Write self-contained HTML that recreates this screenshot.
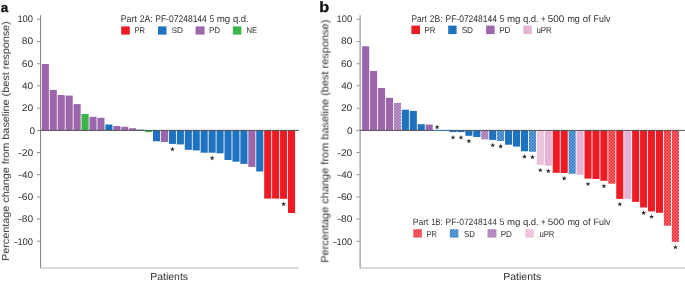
<!DOCTYPE html>
<html><head><meta charset="utf-8"><style>
html,body{margin:0;padding:0;background:#fff;}
body{width:685px;height:283px;overflow:hidden;}
svg{display:block;opacity:0.999;}
.txt{opacity:0.999;}
text{font-family:"Liberation Sans",sans-serif;fill:#303030;text-rendering:geometricPrecision;}
.pl{font-weight:bold;fill:#111;stroke:#111;stroke-width:0.35px;}
</style></head><body>
<svg width="685" height="283" viewBox="0 0 685 283" xmlns="http://www.w3.org/2000/svg">
<defs><pattern id="hR" patternUnits="userSpaceOnUse" width="3.2" height="3.2"><rect width="3.2" height="3.2" fill="#ec1c24"/><path d="M0,0L3.2,3.2M0,3.2L3.2,0" stroke="#fff" stroke-width="0.45" stroke-opacity="0.75"/></pattern><pattern id="hB" patternUnits="userSpaceOnUse" width="3.2" height="3.2"><rect width="3.2" height="3.2" fill="#1f72be"/><path d="M0,0L3.2,3.2M0,3.2L3.2,0" stroke="#fff" stroke-width="0.45" stroke-opacity="0.75"/></pattern><pattern id="hP" patternUnits="userSpaceOnUse" width="3.2" height="3.2"><rect width="3.2" height="3.2" fill="#9c66ac"/><path d="M0,0L3.2,3.2M0,3.2L3.2,0" stroke="#fff" stroke-width="0.45" stroke-opacity="0.75"/></pattern><pattern id="hK" patternUnits="userSpaceOnUse" width="3.2" height="3.2"><rect width="3.2" height="3.2" fill="#e6b3d3"/><path d="M0,0L3.2,3.2M0,3.2L3.2,0" stroke="#fff" stroke-width="0.45" stroke-opacity="0.75"/></pattern><pattern id="lR" patternUnits="userSpaceOnUse" width="2.5" height="2.5"><rect width="2.5" height="2.5" fill="#ec1c24"/><path d="M0,0L2.5,2.5M0,2.5L2.5,0" stroke="#fff" stroke-width="0.4" stroke-opacity="0.8"/></pattern><pattern id="lB" patternUnits="userSpaceOnUse" width="2.5" height="2.5"><rect width="2.5" height="2.5" fill="#1f72be"/><path d="M0,0L2.5,2.5M0,2.5L2.5,0" stroke="#fff" stroke-width="0.4" stroke-opacity="0.8"/></pattern><pattern id="lP" patternUnits="userSpaceOnUse" width="2.5" height="2.5"><rect width="2.5" height="2.5" fill="#9c66ac"/><path d="M0,0L2.5,2.5M0,2.5L2.5,0" stroke="#fff" stroke-width="0.4" stroke-opacity="0.8"/></pattern><pattern id="lK" patternUnits="userSpaceOnUse" width="2.5" height="2.5"><rect width="2.5" height="2.5" fill="#e6b3d3"/><path d="M0,0L2.5,2.5M0,2.5L2.5,0" stroke="#fff" stroke-width="0.4" stroke-opacity="0.8"/></pattern></defs>
<rect x="40.00" y="15.2" width="1.1" height="253" fill="#8a8a8a"/>
<rect x="36.95" y="18.80" width="3" height="1" fill="#8a8a8a"/>
<text class="tk" transform="translate(17.396,22.198) scale(0.978,1)" style="font-size:9.60px">100</text>
<rect x="36.95" y="41.00" width="3" height="1" fill="#8a8a8a"/>
<text class="tk" transform="translate(21.767,44.398) scale(1.062,1)" style="font-size:9.60px">80</text>
<rect x="36.95" y="63.30" width="3" height="1" fill="#8a8a8a"/>
<text class="tk" transform="translate(21.687,66.698) scale(1.070,1)" style="font-size:9.60px">60</text>
<rect x="36.95" y="85.30" width="3" height="1" fill="#8a8a8a"/>
<text class="tk" transform="translate(21.975,89.098) scale(1.042,1)" style="font-size:9.60px">40</text>
<rect x="36.95" y="107.70" width="3" height="1" fill="#8a8a8a"/>
<text class="tk" transform="translate(21.687,111.098) scale(1.070,1)" style="font-size:9.60px">20</text>
<rect x="36.95" y="129.90" width="3" height="1" fill="#8a8a8a"/>
<text class="tk" transform="translate(29.598,133.698) scale(1.047,1)" style="font-size:9.60px">0</text>
<rect x="36.95" y="152.00" width="3" height="1" fill="#8a8a8a"/>
<text class="tk" transform="translate(21.687,155.998) scale(1.070,1)" style="font-size:9.60px">20</text>
<rect x="18.30" y="153.30" width="3.3" height="0.85" fill="#555"/>
<rect x="36.95" y="174.20" width="3" height="1" fill="#8a8a8a"/>
<text class="tk" transform="translate(21.975,177.598) scale(1.042,1)" style="font-size:9.60px">40</text>
<rect x="18.30" y="174.90" width="3.3" height="0.85" fill="#555"/>
<rect x="36.95" y="196.40" width="3" height="1" fill="#8a8a8a"/>
<text class="tk" transform="translate(21.687,199.798) scale(1.070,1)" style="font-size:9.60px">60</text>
<rect x="18.30" y="197.10" width="3.3" height="0.85" fill="#555"/>
<rect x="36.95" y="218.50" width="3" height="1" fill="#8a8a8a"/>
<text class="tk" transform="translate(21.767,221.898) scale(1.062,1)" style="font-size:9.60px">80</text>
<rect x="18.30" y="219.20" width="3.3" height="0.85" fill="#555"/>
<rect x="36.95" y="240.70" width="3" height="1" fill="#8a8a8a"/>
<text class="tk" transform="translate(17.396,244.698) scale(0.978,1)" style="font-size:9.60px">100</text>
<rect x="14.20" y="242.00" width="3.3" height="0.85" fill="#555"/>
<rect x="40.05" y="267.4" width="258.85" height="1.3" fill="#c6c6c6"/>
<rect x="359.55" y="15.2" width="1.1" height="253" fill="#8a8a8a"/>
<rect x="356.50" y="18.80" width="3" height="1" fill="#8a8a8a"/>
<text class="tk" transform="translate(336.596,22.198) scale(0.978,1)" style="font-size:9.60px">100</text>
<rect x="356.50" y="41.00" width="3" height="1" fill="#8a8a8a"/>
<text class="tk" transform="translate(340.967,44.398) scale(1.062,1)" style="font-size:9.60px">80</text>
<rect x="356.50" y="63.30" width="3" height="1" fill="#8a8a8a"/>
<text class="tk" transform="translate(340.887,66.698) scale(1.070,1)" style="font-size:9.60px">60</text>
<rect x="356.50" y="85.30" width="3" height="1" fill="#8a8a8a"/>
<text class="tk" transform="translate(341.175,89.098) scale(1.042,1)" style="font-size:9.60px">40</text>
<rect x="356.50" y="107.70" width="3" height="1" fill="#8a8a8a"/>
<text class="tk" transform="translate(340.887,111.098) scale(1.070,1)" style="font-size:9.60px">20</text>
<rect x="356.50" y="129.90" width="3" height="1" fill="#8a8a8a"/>
<text class="tk" transform="translate(346.998,133.698) scale(1.047,1)" style="font-size:9.60px">0</text>
<rect x="356.50" y="152.00" width="3" height="1" fill="#8a8a8a"/>
<text class="tk" transform="translate(340.887,155.998) scale(1.070,1)" style="font-size:9.60px">20</text>
<rect x="337.50" y="153.30" width="3.3" height="0.85" fill="#555"/>
<rect x="356.50" y="174.20" width="3" height="1" fill="#8a8a8a"/>
<text class="tk" transform="translate(341.175,177.598) scale(1.042,1)" style="font-size:9.60px">40</text>
<rect x="337.50" y="174.90" width="3.3" height="0.85" fill="#555"/>
<rect x="356.50" y="196.40" width="3" height="1" fill="#8a8a8a"/>
<text class="tk" transform="translate(340.887,199.798) scale(1.070,1)" style="font-size:9.60px">60</text>
<rect x="337.50" y="197.10" width="3.3" height="0.85" fill="#555"/>
<rect x="356.50" y="218.50" width="3" height="1" fill="#8a8a8a"/>
<text class="tk" transform="translate(340.967,221.898) scale(1.062,1)" style="font-size:9.60px">80</text>
<rect x="337.50" y="219.20" width="3.3" height="0.85" fill="#555"/>
<rect x="356.50" y="240.70" width="3" height="1" fill="#8a8a8a"/>
<text class="tk" transform="translate(336.596,244.698) scale(0.978,1)" style="font-size:9.60px">100</text>
<rect x="333.40" y="242.00" width="3.3" height="0.85" fill="#555"/>
<rect x="359.60" y="267.4" width="325.40" height="1.3" fill="#c6c6c6"/>
<rect x="41.80" y="64.00" width="7.10" height="66.40" fill="#9c66ac"/>
<rect x="49.74" y="89.90" width="7.10" height="40.50" fill="#9c66ac"/>
<rect x="57.68" y="95.00" width="7.10" height="35.40" fill="#9c66ac"/>
<rect x="65.63" y="95.60" width="7.10" height="34.80" fill="#9c66ac"/>
<rect x="73.57" y="104.10" width="7.10" height="26.30" fill="#9c66ac"/>
<rect x="81.51" y="114.00" width="7.10" height="16.40" fill="#3bb44a"/>
<rect x="89.45" y="116.80" width="7.10" height="13.60" fill="#9c66ac"/>
<rect x="97.39" y="117.80" width="7.10" height="12.60" fill="#9c66ac"/>
<rect x="105.34" y="124.50" width="7.10" height="5.90" fill="#1f72be"/>
<rect x="113.28" y="126.00" width="7.10" height="4.40" fill="#9c66ac"/>
<rect x="121.22" y="126.80" width="7.10" height="3.60" fill="#9c66ac"/>
<rect x="129.16" y="128.20" width="7.10" height="2.20" fill="#9c66ac"/>
<rect x="137.10" y="129.60" width="7.10" height="0.80" fill="#1f72be"/>
<rect x="145.05" y="130.40" width="7.10" height="1.70" fill="#3bb44a"/>
<rect x="152.99" y="130.40" width="7.10" height="10.90" fill="#1f72be"/>
<rect x="160.93" y="130.40" width="7.10" height="11.60" fill="#9c66ac"/>
<rect x="168.87" y="130.40" width="7.10" height="13.50" fill="#1f72be"/>
<polygon points="172.42,146.75 173.05,148.43 174.85,148.51 173.44,149.63 173.92,151.36 172.42,150.37 170.92,151.36 171.40,149.63 170.00,148.51 171.79,148.43" fill="#2e2e2e"/>
<rect x="176.81" y="130.40" width="7.10" height="14.00" fill="#1f72be"/>
<rect x="184.76" y="130.40" width="7.10" height="19.40" fill="#1f72be"/>
<rect x="192.70" y="130.40" width="7.10" height="20.00" fill="#1f72be"/>
<rect x="200.64" y="130.40" width="7.10" height="22.30" fill="#1f72be"/>
<rect x="208.58" y="130.40" width="7.10" height="22.30" fill="#1f72be"/>
<polygon points="212.13,155.55 212.76,157.23 214.56,157.31 213.15,158.43 213.63,160.16 212.13,159.17 210.63,160.16 211.11,158.43 209.71,157.31 211.50,157.23" fill="#2e2e2e"/>
<rect x="216.52" y="130.40" width="7.10" height="22.90" fill="#1f72be"/>
<rect x="224.47" y="130.40" width="7.10" height="29.60" fill="#1f72be"/>
<rect x="232.41" y="130.40" width="7.10" height="31.30" fill="#1f72be"/>
<rect x="240.35" y="130.40" width="7.10" height="33.50" fill="#1f72be"/>
<rect x="248.29" y="130.40" width="7.10" height="36.50" fill="#9c66ac"/>
<rect x="256.23" y="130.40" width="7.10" height="41.10" fill="#1f72be"/>
<rect x="264.18" y="130.40" width="7.10" height="68.20" fill="#ec1c24"/>
<rect x="272.12" y="130.40" width="7.10" height="68.20" fill="#ec1c24"/>
<rect x="280.06" y="130.40" width="7.10" height="68.40" fill="#ec1c24"/>
<polygon points="283.61,201.65 284.24,203.33 286.04,203.41 284.63,204.53 285.11,206.26 283.61,205.27 282.11,206.26 282.59,204.53 281.18,203.41 282.98,203.33" fill="#2e2e2e"/>
<rect x="288.00" y="130.40" width="7.10" height="82.60" fill="#ec1c24"/>
<rect x="362.10" y="46.20" width="7.10" height="84.20" fill="#9c66ac"/>
<rect x="370.04" y="70.90" width="7.10" height="59.50" fill="#9c66ac"/>
<rect x="377.98" y="88.00" width="7.10" height="42.40" fill="#9c66ac"/>
<rect x="385.93" y="97.80" width="7.10" height="32.60" fill="#9c66ac"/>
<rect x="393.87" y="102.90" width="7.10" height="27.50" fill="url(#hP)"/>
<rect x="401.81" y="109.70" width="7.10" height="20.70" fill="#1f72be"/>
<rect x="409.75" y="110.90" width="7.10" height="19.50" fill="#1f72be"/>
<rect x="417.69" y="124.20" width="7.10" height="6.20" fill="#1f72be"/>
<rect x="425.64" y="124.60" width="7.10" height="5.80" fill="#9c66ac"/>
<polygon points="437.13,124.65 437.76,126.33 439.55,126.41 438.15,127.53 438.63,129.26 437.13,128.27 435.63,129.26 436.11,127.53 434.70,126.41 436.50,126.33" fill="#2e2e2e"/>
<rect x="449.46" y="130.40" width="7.10" height="1.70" fill="#1f72be"/>
<polygon points="453.01,134.95 453.64,136.63 455.44,136.71 454.03,137.83 454.51,139.56 453.01,138.57 451.51,139.56 451.99,137.83 450.59,136.71 452.38,136.63" fill="#2e2e2e"/>
<rect x="457.40" y="130.40" width="7.10" height="1.70" fill="#1f72be"/>
<polygon points="460.95,134.95 461.58,136.63 463.38,136.71 461.97,137.83 462.45,139.56 460.95,138.57 459.46,139.56 459.94,137.83 458.53,136.71 460.32,136.63" fill="#2e2e2e"/>
<rect x="465.35" y="130.40" width="7.10" height="5.40" fill="#1f72be"/>
<polygon points="468.90,138.65 469.53,140.33 471.32,140.41 469.91,141.53 470.39,143.26 468.90,142.27 467.40,143.26 467.88,141.53 466.47,140.41 468.27,140.33" fill="#2e2e2e"/>
<rect x="473.29" y="130.40" width="7.10" height="6.60" fill="#1f72be"/>
<rect x="481.23" y="130.40" width="7.10" height="9.00" fill="url(#hP)"/>
<rect x="489.17" y="130.40" width="7.10" height="9.50" fill="#1f72be"/>
<polygon points="492.72,142.75 493.35,144.43 495.15,144.51 493.74,145.63 494.22,147.36 492.72,146.37 491.22,147.36 491.70,145.63 490.30,144.51 492.09,144.43" fill="#2e2e2e"/>
<rect x="497.11" y="130.40" width="7.10" height="10.60" fill="url(#hB)"/>
<polygon points="500.66,143.85 501.29,145.53 503.09,145.61 501.68,146.73 502.16,148.46 500.66,147.47 499.17,148.46 499.65,146.73 498.24,145.61 500.03,145.53" fill="#2e2e2e"/>
<rect x="505.06" y="130.40" width="7.10" height="14.30" fill="#1f72be"/>
<rect x="513.00" y="130.40" width="7.10" height="16.20" fill="#1f72be"/>
<rect x="520.94" y="130.40" width="7.10" height="20.90" fill="#1f72be"/>
<polygon points="524.49,154.15 525.12,155.83 526.92,155.91 525.51,157.03 525.99,158.76 524.49,157.77 522.99,158.76 523.47,157.03 522.06,155.91 523.86,155.83" fill="#2e2e2e"/>
<rect x="528.88" y="130.40" width="7.10" height="21.40" fill="url(#hB)"/>
<polygon points="532.43,154.65 533.06,156.33 534.86,156.41 533.45,157.53 533.93,159.26 532.43,158.27 530.93,159.26 531.41,157.53 530.01,156.41 531.80,156.33" fill="#2e2e2e"/>
<rect x="536.82" y="130.40" width="7.10" height="34.50" fill="url(#hK)"/>
<polygon points="540.37,167.75 541.00,169.43 542.80,169.51 541.39,170.63 541.87,172.36 540.37,171.37 538.88,172.36 539.36,170.63 537.95,169.51 539.74,169.43" fill="#2e2e2e"/>
<rect x="544.77" y="130.40" width="7.10" height="35.30" fill="#e6b3d3"/>
<polygon points="548.32,168.55 548.95,170.23 550.74,170.31 549.33,171.43 549.81,173.16 548.32,172.17 546.82,173.16 547.30,171.43 545.89,170.31 547.69,170.23" fill="#2e2e2e"/>
<rect x="552.71" y="130.40" width="7.10" height="42.40" fill="#ec1c24"/>
<rect x="560.65" y="130.40" width="7.10" height="42.60" fill="#ec1c24"/>
<polygon points="564.20,175.85 564.83,177.53 566.63,177.61 565.22,178.73 565.70,180.46 564.20,179.47 562.70,180.46 563.18,178.73 561.77,177.61 563.57,177.53" fill="#2e2e2e"/>
<rect x="568.59" y="130.40" width="7.10" height="43.40" fill="url(#hB)"/>
<rect x="576.53" y="130.40" width="7.10" height="44.40" fill="#e6b3d3"/>
<rect x="584.48" y="130.40" width="7.10" height="48.20" fill="#ec1c24"/>
<polygon points="588.03,181.45 588.66,183.13 590.45,183.21 589.04,184.33 589.52,186.06 588.03,185.07 586.53,186.06 587.01,184.33 585.60,183.21 587.40,183.13" fill="#2e2e2e"/>
<rect x="592.42" y="130.40" width="7.10" height="48.60" fill="#ec1c24"/>
<rect x="600.36" y="130.40" width="7.10" height="50.40" fill="#ec1c24"/>
<polygon points="603.91,183.65 604.54,185.33 606.34,185.41 604.93,186.53 605.41,188.26 603.91,187.27 602.41,188.26 602.89,186.53 601.48,185.41 603.28,185.33" fill="#2e2e2e"/>
<rect x="608.30" y="130.40" width="7.10" height="53.30" fill="url(#hR)"/>
<rect x="616.24" y="130.40" width="7.10" height="68.50" fill="#ec1c24"/>
<polygon points="619.79,201.75 620.42,203.43 622.22,203.51 620.81,204.63 621.29,206.36 619.79,205.37 618.30,206.36 618.78,204.63 617.37,203.51 619.16,203.43" fill="#2e2e2e"/>
<rect x="624.19" y="130.40" width="7.10" height="68.50" fill="#e6b3d3"/>
<rect x="632.13" y="130.40" width="7.10" height="71.50" fill="#ec1c24"/>
<rect x="640.07" y="130.40" width="7.10" height="77.10" fill="#ec1c24"/>
<polygon points="643.62,210.35 644.25,212.03 646.05,212.11 644.64,213.23 645.12,214.96 643.62,213.97 642.12,214.96 642.60,213.23 641.19,212.11 642.99,212.03" fill="#2e2e2e"/>
<rect x="648.01" y="130.40" width="7.10" height="81.00" fill="#ec1c24"/>
<polygon points="651.56,214.25 652.19,215.93 653.99,216.01 652.58,217.13 653.06,218.86 651.56,217.87 650.06,218.86 650.54,217.13 649.14,216.01 650.93,215.93" fill="#2e2e2e"/>
<rect x="655.95" y="130.40" width="7.10" height="82.40" fill="#ec1c24"/>
<rect x="663.90" y="130.40" width="7.10" height="95.30" fill="url(#hR)"/>
<rect x="671.84" y="130.40" width="7.10" height="111.50" fill="url(#hR)"/>
<polygon points="675.39,244.75 676.02,246.43 677.81,246.51 676.41,247.63 676.89,249.36 675.39,248.37 673.89,249.36 674.37,247.63 672.96,246.51 674.76,246.43" fill="#2e2e2e"/>
<rect x="40.55" y="129.90" width="258.35" height="1" fill="#444" fill-opacity="0.9"/>
<rect x="360.10" y="129.90" width="324.90" height="1" fill="#444" fill-opacity="0.9"/>
<rect x="433.58" y="129.90" width="7.10" height="1.10" fill="#3a80c2"/><rect x="441.52" y="129.90" width="7.10" height="1.10" fill="#3a80c2"/>
<rect x="121.20" y="26.40" width="8.60" height="8.20" fill="#ec1c24"/>
<rect x="158.00" y="26.40" width="8.50" height="8.20" fill="#1f72be"/>
<rect x="195.60" y="26.40" width="9.00" height="8.20" fill="#9c66ac"/>
<rect x="232.90" y="26.40" width="8.50" height="8.20" fill="#3bb44a"/>
<rect x="411.40" y="25.60" width="8.60" height="8.50" fill="#ec1c24"/>
<rect x="448.20" y="25.60" width="8.40" height="8.50" fill="#1f72be"/>
<rect x="486.10" y="25.60" width="8.50" height="8.50" fill="#9c66ac"/>
<rect x="523.30" y="25.60" width="8.40" height="8.50" fill="#e6b3d3"/>
<rect x="413.30" y="229.20" width="8.50" height="8.40" fill="url(#lR)"/>
<rect x="449.80" y="229.20" width="8.60" height="8.40" fill="url(#lB)"/>
<rect x="487.50" y="229.20" width="8.90" height="8.40" fill="url(#lP)"/>
<rect x="525.30" y="229.20" width="8.50" height="8.40" fill="url(#lK)"/>
<g class="txt"><text class="pl" transform="translate(0.800,12.000) scale(1.0094,1)" style="font-size:13.209px">a</text>
<text class="pl" transform="translate(319.345,12.100) scale(1.0800,1)" style="font-size:15.034px">b</text>
<text class="yt" transform="translate(9.000,260.892) rotate(-90) scale(1.0625,1)" style="font-size:10.182px">Percentage change from baseline (best response)</text>
<text class="yt" transform="translate(328.400,262.704) rotate(-90) scale(1.0468,1)" style="font-size:10.473px">Percentage change from baseline (best response)</text>
<text class="xt" transform="translate(150.236,279.900) scale(1.0140,1)" style="font-size:10.327px">Patients</text>
<text class="xt" transform="translate(503.234,279.900) scale(1.0168,1)" style="font-size:10.327px">Patients</text>
<text class="lt" transform="translate(120.671,21.750) scale(0.9137,1)" style="font-size:9.673px">Part</text>
<text class="lt" transform="translate(139.766,21.750) scale(0.8970,1)" style="font-size:9.673px">2A:</text>
<text class="lt" transform="translate(155.196,21.750) scale(0.8827,1)" style="font-size:9.673px">PF-07248144</text>
<text class="lt" transform="translate(209.788,21.750) scale(0.8053,1)" style="font-size:9.673px">5</text>
<text class="lt" transform="translate(216.740,21.750) scale(1.0112,1)" style="font-size:9.673px">mg</text>
<text class="lt" transform="translate(232.896,21.750) scale(0.9833,1)" style="font-size:9.673px">q.d.</text>
<text class="lt" transform="translate(411.509,21.750) scale(0.8662,1)" style="font-size:9.673px">Part</text>
<text class="lt" transform="translate(429.770,21.750) scale(0.8894,1)" style="font-size:9.673px">2B:</text>
<text class="lt" transform="translate(445.498,21.750) scale(0.8792,1)" style="font-size:9.673px">PF-07248144</text>
<text class="lt" transform="translate(499.772,21.750) scale(0.8488,1)" style="font-size:9.673px">5</text>
<text class="lt" transform="translate(506.945,21.750) scale(1.0030,1)" style="font-size:9.673px">mg</text>
<text class="lt" transform="translate(522.896,21.750) scale(0.9833,1)" style="font-size:9.673px">q.d.</text>
<text class="lt" transform="translate(541.039,21.750) scale(0.7847,1)" style="font-size:9.673px">+</text>
<text class="lt" transform="translate(547.803,21.750) scale(1.0273,1)" style="font-size:9.673px">500</text>
<text class="lt" transform="translate(567.393,21.750) scale(0.9290,1)" style="font-size:9.673px">mg</text>
<text class="lt" transform="translate(582.698,21.750) scale(0.9784,1)" style="font-size:9.673px">of</text>
<text class="lt" transform="translate(593.564,21.750) scale(0.9221,1)" style="font-size:9.673px">Fulv</text>
<text class="lt" transform="translate(412.690,224.750) scale(0.9320,1)" style="font-size:9.236px">Part</text>
<text class="lt" transform="translate(431.444,224.750) scale(0.8029,1)" style="font-size:9.236px">1B:</text>
<text class="lt" transform="translate(445.498,224.750) scale(0.9207,1)" style="font-size:9.236px">PF-07248144</text>
<text class="lt" transform="translate(499.772,224.750) scale(0.8889,1)" style="font-size:9.236px">5</text>
<text class="lt" transform="translate(506.945,224.750) scale(1.0504,1)" style="font-size:9.236px">mg</text>
<text class="lt" transform="translate(522.896,224.750) scale(1.0298,1)" style="font-size:9.236px">q.d.</text>
<text class="lt" transform="translate(541.039,224.750) scale(0.8217,1)" style="font-size:9.236px">+</text>
<text class="lt" transform="translate(547.803,224.750) scale(1.0759,1)" style="font-size:9.236px">500</text>
<text class="lt" transform="translate(567.393,224.750) scale(0.9729,1)" style="font-size:9.236px">mg</text>
<text class="lt" transform="translate(582.698,224.750) scale(1.0246,1)" style="font-size:9.236px">of</text>
<text class="lt" transform="translate(593.564,224.750) scale(0.9657,1)" style="font-size:9.236px">Fulv</text>
<text class="lg" transform="translate(134.578,32.900) scale(0.9094,1)" style="font-size:8.291px">PR</text>
<text class="lg" transform="translate(171.525,32.900) scale(1.0040,1)" style="font-size:8.291px">SD</text>
<text class="lg" transform="translate(208.932,32.900) scale(0.9764,1)" style="font-size:8.291px">PD</text>
<text class="lg" transform="translate(246.567,32.900) scale(0.9249,1)" style="font-size:8.291px">NE</text>
<text class="lg" transform="translate(424.545,32.700) scale(0.8945,1)" style="font-size:8.873px">PR</text>
<text class="lg" transform="translate(461.629,32.700) scale(0.9294,1)" style="font-size:8.873px">SD</text>
<text class="lg" transform="translate(499.232,32.700) scale(0.9124,1)" style="font-size:8.873px">PD</text>
<text class="lg" transform="translate(536.382,32.700) scale(0.8979,1)" style="font-size:8.873px">uPR</text>
<text class="lg" transform="translate(426.591,236.500) scale(0.8319,1)" style="font-size:8.873px">PR</text>
<text class="lg" transform="translate(464.043,236.500) scale(0.8947,1)" style="font-size:8.873px">SD</text>
<text class="lg" transform="translate(500.632,236.500) scale(0.9124,1)" style="font-size:8.873px">PD</text>
<text class="lg" transform="translate(539.396,236.500) scale(0.8733,1)" style="font-size:8.873px">uPR</text></g>
</svg>
</body></html>
